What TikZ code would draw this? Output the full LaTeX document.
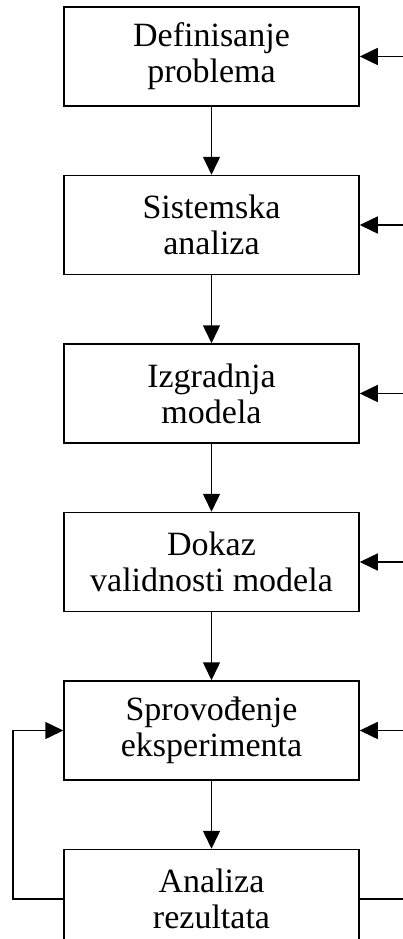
\documentclass[tikz,border=0pt]{standalone}
\usepackage{fontspec}
\setmainfont{Liberation Serif}
\usepackage{tikz}
\usetikzlibrary{positioning,arrows.meta}

\begin{document}
\begin{tikzpicture}[
    stage/.style={rectangle, draw, minimum width=295pt, minimum height=99pt, align=center, font=\fontsize{34}{36}\selectfont},
    line width=1.5pt,
    >={Triangle[length=18pt,width=17pt]},
    node distance=68pt
]
\useasboundingbox (0pt,0pt) rectangle (402pt,-939pt);

% faze
\node[stage] (def) at (211.5pt,-56.5pt) {Definisanje\\problema};
\node[stage, below=of def] (sis) {Sistemska\\analiza};
\node[stage, below=of sis] (izg) {Izgradnja\\modela};
\node[stage, below=of izg] (dok) {Dokaz\\validnosti modela};
\node[stage, below=of dok] (spr) {Sprovođenje\\eksperimenta};
\node[stage, below=of spr] (ana) {Analiza\\rezultata};

% tok
\draw[->] (def) -- (sis);
\draw[->] (sis) -- (izg);
\draw[->] (izg) -- (dok);
\draw[->] (dok) -- (spr);
\draw[->] (spr) -- (ana);

% povratne veze
\coordinate (rt) at (410pt,0pt);
\coordinate (lf) at (13pt,0pt);
\foreach \b in {def,sis,izg,dok,spr}
    \draw[->] (\b.east -| rt) -- (\b.east);
\draw (ana.east) -- (ana.east -| rt);
\draw[->] (ana.west) -- (ana.west -| lf) |- (spr.west);

\end{tikzpicture}
\end{document}
